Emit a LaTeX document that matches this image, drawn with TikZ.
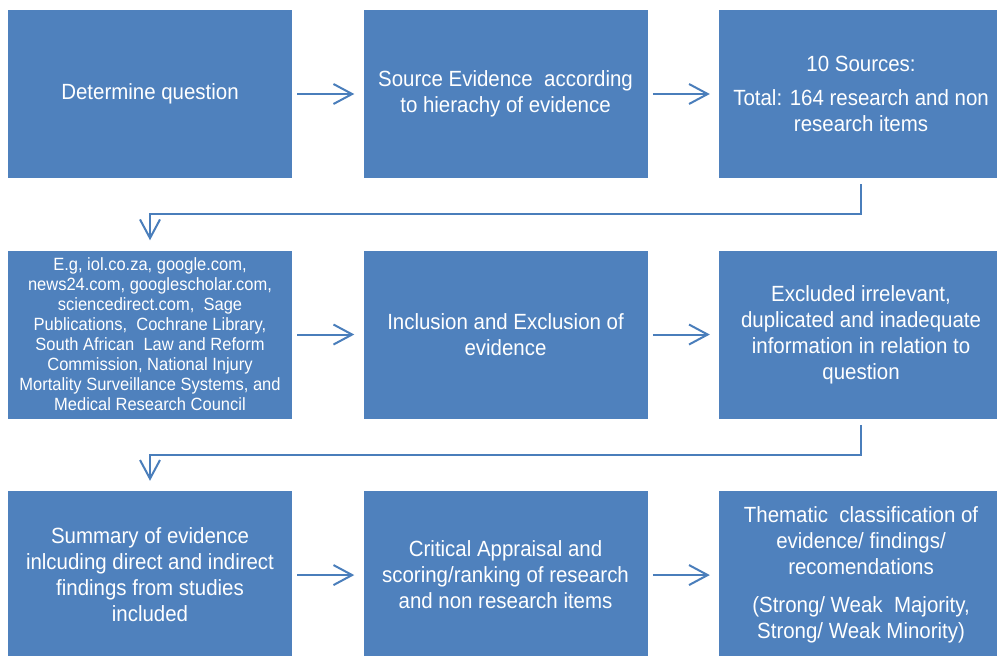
\documentclass[tikz,border=0pt]{standalone}
\usepackage{fontspec}
\setmainfont{Liberation Sans}[FakeStretch=0.93]
\usepackage{xcolor}
\usepackage{tikz}
\usetikzlibrary{arrows.meta, positioning, calc}
\definecolor{stageFill}{RGB}{79,129,189}
\definecolor{flowLine}{RGB}{74,126,187}
\tikzset{
  stageNode/.style={
    draw=none,
    fill=stageFill,
    text=white,
    align=center,
    inner sep=0pt,
    minimum width=213pt,
    minimum height=126pt,
    font=\fontsize{16.5}{19.5}\selectfont
  },
  sourceListNode/.style={stageNode, font=\fontsize{13.3}{15}\selectfont},
  stageFlow/.style={-{Straight Barb[length=14pt,width=15pt]}, line width=1.5pt, draw=flowLine,
    shorten <=3.75pt, shorten >=6.75pt},
  wrapFlow/.style={stageFlow, shorten <=4.5pt, shorten >=7.5pt}
}

\begin{document}
\begin{tikzpicture}[x=0.75pt, y=-0.75pt, node distance=54pt and 53.25pt]
  \useasboundingbox (0,0) rectangle (997,656);

  \node[stageNode] (question) at (150,94) {Determine question};
  \node[stageNode, right=of question] (sourcing) {Source Evidence~ according\\to hierachy of evidence};
  \node[stageNode, right=of sourcing] (sources) {10 Sources:\\[6pt]Total: 164 research and non\\research items};

  \node[sourceListNode, below=of question] (examples) {E.g, iol.co.za, google.com,\\news24.com, googlescholar.com,\\sciencedirect.com,~ Sage\\Publications,~ Cochrane Library,\\South African~ Law and Reform\\Commission, National Injury\\Mortality Surveillance Systems, and\\Medical Research Council};
  \node[stageNode, right=of examples] (screening) {Inclusion and Exclusion of\\evidence};
  \node[stageNode, right=of screening] (excluded) {Excluded irrelevant,\\duplicated and inadequate\\information in relation to\\question};

  \node[stageNode, below=of examples] (summary) {Summary of evidence\\inlcuding direct and indirect\\findings from studies\\included};
  \node[stageNode, right=of summary] (appraisal) {Critical Appraisal and\\scoring/ranking of research\\and non research items};
  \node[stageNode, right=of appraisal] (themes) {Thematic~ classification of\\evidence/ findings/\\recomendations\\[9pt](Strong/ Weak~ Majority,\\Strong/ Weak Minority)};

  \draw[stageFlow] (question) -- (sourcing);
  \draw[stageFlow] (sourcing) -- (sources);
  \draw[wrapFlow] (sources.south) |- ($(sources.south)!0.5!(examples.north)$) -| (examples.north);
  \draw[stageFlow] (examples) -- (screening);
  \draw[stageFlow] (screening) -- (excluded);
  \draw[wrapFlow] (excluded.south) |- ($(excluded.south)!0.5!(summary.north)$) -| (summary.north);
  \draw[stageFlow] (summary) -- (appraisal);
  \draw[stageFlow] (appraisal) -- (themes);
\end{tikzpicture}
\end{document}
